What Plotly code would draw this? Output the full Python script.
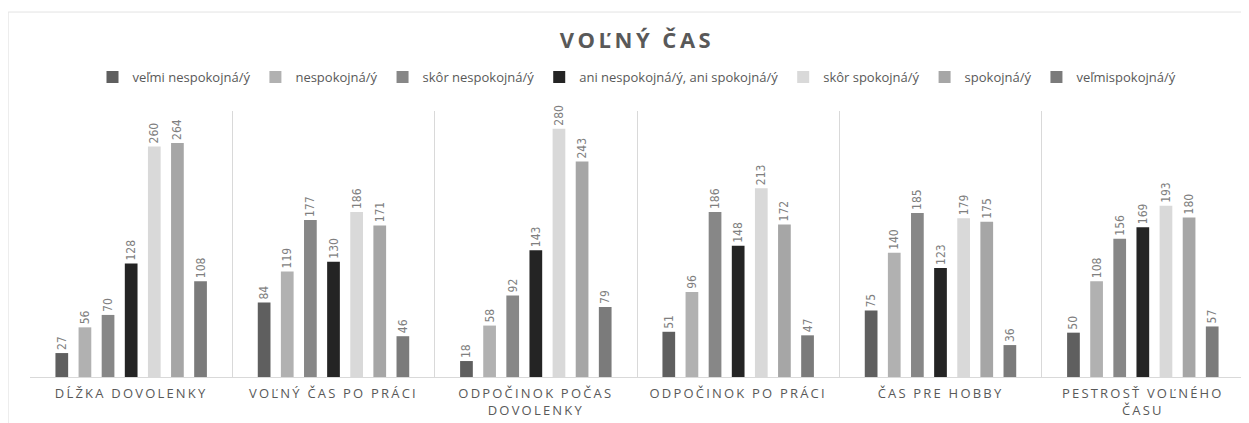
import plotly.graph_objects as go

categories = ["DĹŽKA DOVOLENKY", "VOĽNÝ ČAS PO PRÁCI", "ODPOČINOK POČAS<br>DOVOLENKY",
              "ODPOČINOK PO PRÁCI", "ČAS PRE HOBBY", "PESTROSŤ VOĽNÉHO<br>ČASU"]
series_names = ["veľmi nespokojná/ý", "nespokojná/ý", "skôr nespokojná/ý",
                "ani nespokojná/ý, ani spokojná/ý", "skôr spokojná/ý", "spokojná/ý",
                "veľmispokojná/ý"]
velmi_nespokojna = [27, 84, 18, 51, 75, 50]
nespokojna = [56, 119, 58, 96, 140, 108]
skor_nespokojna = [70, 177, 92, 186, 185, 156]
ani_ani = [128, 130, 143, 148, 123, 169]
skor_spokojna = [260, 186, 280, 213, 179, 193]
spokojna = [264, 171, 243, 172, 175, 180]
velmi_spokojna = [108, 46, 79, 47, 36, 57]
series_values = [velmi_nespokojna, nespokojna, skor_nespokojna, ani_ani,
                 skor_spokojna, spokojna, velmi_spokojna]
colors = ["#5f5f5f", "#b1b1b1", "#878787", "#242424", "#d9d9d9", "#a6a6a6", "#7b7b7b"]

fig = go.Figure()
for name, vals, col in zip(series_names, series_values, colors):
    fig.add_trace(go.Bar(
        x=categories, y=vals, name=name,
        marker=dict(color=col, line=dict(width=0)),
        text=[str(v) for v in vals], textposition="outside", textangle=-90,
        constraintext="none", cliponaxis=False,
        textfont=dict(family="Liberation Sans Narrow, Arial Narrow, DejaVu Sans Condensed", size=12, color="#7f7f7f"),
    ))

fig.update_layout(
    width=1249, height=423,
    paper_bgcolor="white", plot_bgcolor="white",
    margin=dict(l=22, r=13, t=103, b=54, autoexpand=False),
    barmode="group", bargap=0.2, bargroupgap=0.45,
    title=dict(text="<b>VOĽNÝ ČAS</b>", x=0.5, xanchor="center", xref="paper",
               yref="container", y=1 - 32 / 423, yanchor="middle",
               font=dict(family="Open Sans", size=22, color="#595959")),
    legend=dict(orientation="h", x=0.5, xanchor="center", y=1.128, yanchor="middle",
                font=dict(family="Open Sans", size=13, color="#595959"),
                itemwidth=30, tracegroupgap=0, traceorder="normal"),
    showlegend=True,
    font=dict(family="Open Sans", color="#595959"),
)
fig.update_xaxes(
    type="category", tickson="boundaries", showgrid=True, gridcolor="#d9d9d9", gridwidth=1,
    showline=True, linecolor="#d9d9d9", linewidth=1, ticks="", automargin=False,
    ticklabelstandoff=4,
    tickfont=dict(family="Open Sans", size=13, color="#595959"),
)
fig.update_yaxes(range=[0, 300], visible=False, showgrid=False, automargin=False)

fig.add_shape(type="rect", xref="paper", yref="paper", x0=-0.018, x1=1.05, y0=-0.5, y1=1.372,
              line=dict(color="#e3e3e3", width=1), layer="below")

post = """
var gd = document.getElementById('{plot_id}');
function spacing() {
  gd.querySelectorAll('.xtick text').forEach(function(t){ t.style.letterSpacing = '2.2px'; });
  gd.querySelectorAll('.gtitle').forEach(function(t){ t.style.letterSpacing = '3.5px'; });
}
spacing();
gd.on('plotly_afterplot', spacing);
"""

fig.write_html("out.html", post_script=post)
